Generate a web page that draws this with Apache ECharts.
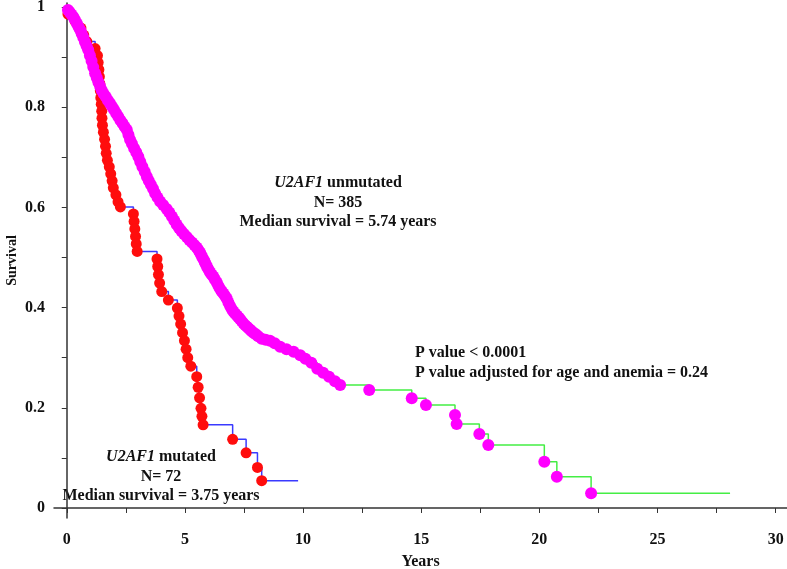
<!DOCTYPE html>
<html><head><meta charset="utf-8">
<script src="https://cdn.jsdelivr.net/npm/echarts@6/dist/echarts.min.js"></script>
<style>html,body{margin:0;padding:0;background:#fff}#c{width:787px;height:569px}</style>
</head><body><div id="c"></div>
<script>
// U2AF1 mutated (N=72): event times (years) and survival after each event
var mutTime = [0.05,0.35,0.6,0.72,0.85,1.2,1.3,1.33,1.36,1.38,1.40,1.42,1.44,1.46,1.48,1.49,1.51,1.55,1.60,1.64,1.67,1.72,1.80,1.86,1.92,1.97,2.08,2.17,2.27,
  2.82,2.85,2.88,2.91,2.94,2.98,
  3.82,3.85,3.88,3.93,4.02,4.30,4.68,4.75,4.82,4.90,4.98,5.05,5.12,5.25,5.50,5.56,5.62,5.68,5.72,5.77,
  7.02,7.59,8.07,8.25];
var mutSurv = [0.986,0.972,0.958,0.944,0.931,0.917,0.903,0.889,0.875,0.861,0.847,0.833,0.819,0.806,0.792,0.778,0.764,0.750,0.736,0.722,0.708,0.694,0.681,0.667,0.653,0.639,0.625,0.611,0.601,
  0.587,0.572,0.557,0.542,0.527,0.512,
  0.497,0.482,0.466,0.449,0.432,0.415,0.399,0.383,0.367,0.350,0.334,0.317,0.300,0.283,0.262,0.241,0.220,0.199,0.183,0.166,
  0.137,0.110,0.081,0.0545];
var mutLastFollowUp = 9.79;

// U2AF1 unmutated (N=385)
var unTime = [0.05,0.12,0.2,0.28,0.35,0.43,0.5,0.57,0.63,0.7,0.77,0.84,0.91,0.98,1.05,1.12,1.2,1.27,1.34,1.41,1.48,1.56,1.65,1.74,1.83,1.92,2.0,2.09,2.18,2.27,2.36,2.45,2.54,2.61,2.68,2.76,2.85,2.94,3.03,3.11,3.2,3.3,3.39,3.47,3.56,3.65,3.74,3.84,3.95,4.08,4.23,4.34,4.45,4.55,4.65,4.75,4.85,4.96,5.08,5.19,5.3,5.4,5.5,5.57,5.64,5.69,5.74,5.8,5.85,5.9,5.95,6.01,6.07,6.13,6.2,6.27,6.35,6.42,6.49,6.56,6.63,6.7,6.77,6.84,6.91,6.98,7.05,7.12,7.2,7.27,7.33,7.4,7.47,7.55,7.62,7.69,7.76,7.83,7.9,8.0,8.1,8.25,8.42,8.6,8.8,9.03,9.3,9.6,9.88,10.1,10.35,10.6,10.85,11.1,11.35,11.57,
  12.8,14.6,15.2,16.43,16.5,17.46,17.84,20.21,20.74,22.19];
var unSurv = [0.994,0.99,0.985,0.98,0.974,0.967,0.96,0.954,0.947,0.939,0.93,0.922,0.914,0.903,0.892,0.88,0.868,0.859,0.85,0.842,0.834,0.827,0.821,0.814,0.808,0.801,0.795,0.788,0.781,0.774,0.768,0.761,0.755,0.745,0.735,0.727,0.718,0.71,0.701,0.691,0.681,0.671,0.661,0.653,0.645,0.637,0.628,0.62,0.612,0.605,0.597,0.59,0.582,0.574,0.566,0.559,0.553,0.547,0.541,0.535,0.53,0.525,0.52,0.515,0.51,0.505,0.5,0.495,0.49,0.485,0.48,0.475,0.47,0.466,0.462,0.456,0.45,0.443,0.437,0.432,0.428,0.423,0.418,0.41,0.403,0.397,0.392,0.388,0.384,0.38,0.377,0.373,0.369,0.365,0.362,0.359,0.356,0.353,0.35,0.347,0.343,0.338,0.336,0.334,0.329,0.322,0.317,0.312,0.305,0.298,0.29,0.278,0.27,0.262,0.253,0.2455,
  0.2355,0.219,0.2056,0.1856,0.1677,0.1477,0.1257,0.0924,0.0625,0.0293];
var unLastFollowUp = 28.07;

var xTicks = [0,5,10,15,20,25,30];
var xMinorTicks = [0,2.5,5,7.5,10,12.5,15,17.5,20,22.5,25,27.5,30];
var yTicks = [0,0.2,0.4,0.6,0.8,1];
var yMinorTicks = [0,0.1,0.2,0.3,0.4,0.5,0.6,0.7,0.8,0.9,1];

function pts(t, s) { return t.map(function (v, i) { return [v, s[i]]; }); }
function stepLine(t, s, last) {
  var d = [[0, 1]].concat(pts(t, s));
  d.push([last, s[s.length - 1]]);
  return d;
}

var FONT = 'Liberation Serif';
var FS = 16;
var chart = echarts.init(document.getElementById('c'));
var txt = { fontFamily: FONT, fontWeight: 'bold', fontSize: FS, fill: '#111' };
var richI = { i: { fontStyle: 'italic', fontWeight: 'bold', fontFamily: FONT, fontSize: FS, fill: '#111' } };

chart.setOption({
  animation: false,
  backgroundColor: '#fff',
  grid: { left: 54, right: 0, top: 3, bottom: 51, containLabel: false, outerBoundsMode: 'none' },
  xAxis: {
    type: 'value', min: -0.54, max: 30.48,
    name: 'Years', nameLocation: 'middle', nameGap: 36, nameMoveOverlap: false,
    nameTextStyle: { fontFamily: FONT, fontWeight: 'bold', fontSize: 16, color: '#111' },
    axisLine: { show: true, lineStyle: { color: '#333', width: 1.5 } },
    axisTick: { show: true, customValues: xMinorTicks, length: 5, lineStyle: { color: '#333' } },
    axisLabel: { customValues: xTicks, margin: 14, fontFamily: FONT, fontWeight: 'bold', fontSize: 16, color: '#111' },
    splitLine: { show: false }
  },
  yAxis: {
    type: 'value', min: -0.02, max: 1.008,
    name: 'Survival', nameLocation: 'middle', nameGap: 35, nameRotate: 90, nameMoveOverlap: false,
    nameTextStyle: { fontFamily: FONT, fontWeight: 'bold', fontSize: 14, color: '#111' },
    axisLine: { show: true, lineStyle: { color: '#333', width: 1.5 } },
    axisTick: { show: true, customValues: yMinorTicks, length: 5, lineStyle: { color: '#333' } },
    axisLabel: { customValues: yTicks, margin: 9, fontFamily: FONT, fontWeight: 'bold', fontSize: 16, color: '#111' },
    splitLine: { show: false }
  },
  series: [
    { type: 'line', step: 'end', data: stepLine(mutTime, mutSurv, mutLastFollowUp), showSymbol: false,
      lineStyle: { color: '#3a3aff', width: 1.5 }, z: 1 },
    { type: 'scatter', data: pts(mutTime, mutSurv), symbolSize: 11,
      itemStyle: { color: '#ff0d0d', opacity: 1 }, z: 2 },
    { type: 'line', step: 'end', data: stepLine(unTime, unSurv, unLastFollowUp), showSymbol: false,
      lineStyle: { color: '#44ee44', width: 1.5 }, z: 3 },
    { type: 'scatter', data: pts(unTime, unSurv), symbolSize: 12,
      itemStyle: { color: '#ff00ff', opacity: 1 }, z: 4 }
  ],
  graphic: [
    { type: 'text', style: { x: 338, y: 183, text: '{i|U2AF1} unmutated', align: 'center', verticalAlign: 'middle',
      font: 'bold 16px "Liberation Serif"', fill: '#111', rich: richI } },
    { type: 'text', style: Object.assign({ x: 338, y: 203, text: 'N= 385', align: 'center', verticalAlign: 'middle' }, txt) },
    { type: 'text', style: Object.assign({ x: 338, y: 222, text: 'Median survival = 5.74 years', align: 'center', verticalAlign: 'middle' }, txt) },
    { type: 'text', style: Object.assign({ x: 415, y: 353, text: 'P value < 0.0001', align: 'left', verticalAlign: 'middle' }, txt) },
    { type: 'text', style: Object.assign({ x: 415, y: 373, text: 'P value adjusted for age and anemia = 0.24', align: 'left', verticalAlign: 'middle' }, txt) },
    { type: 'text', style: { x: 161, y: 457, text: '{i|U2AF1} mutated', align: 'center', verticalAlign: 'middle',
      font: 'bold 16px "Liberation Serif"', fill: '#111', rich: richI } },
    { type: 'text', style: Object.assign({ x: 161, y: 477, text: 'N= 72', align: 'center', verticalAlign: 'middle' }, txt) },
    { type: 'text', style: Object.assign({ x: 161, y: 496, text: 'Median survival = 3.75 years', align: 'center', verticalAlign: 'middle' }, txt) }
  ]
});
</script></body></html>
